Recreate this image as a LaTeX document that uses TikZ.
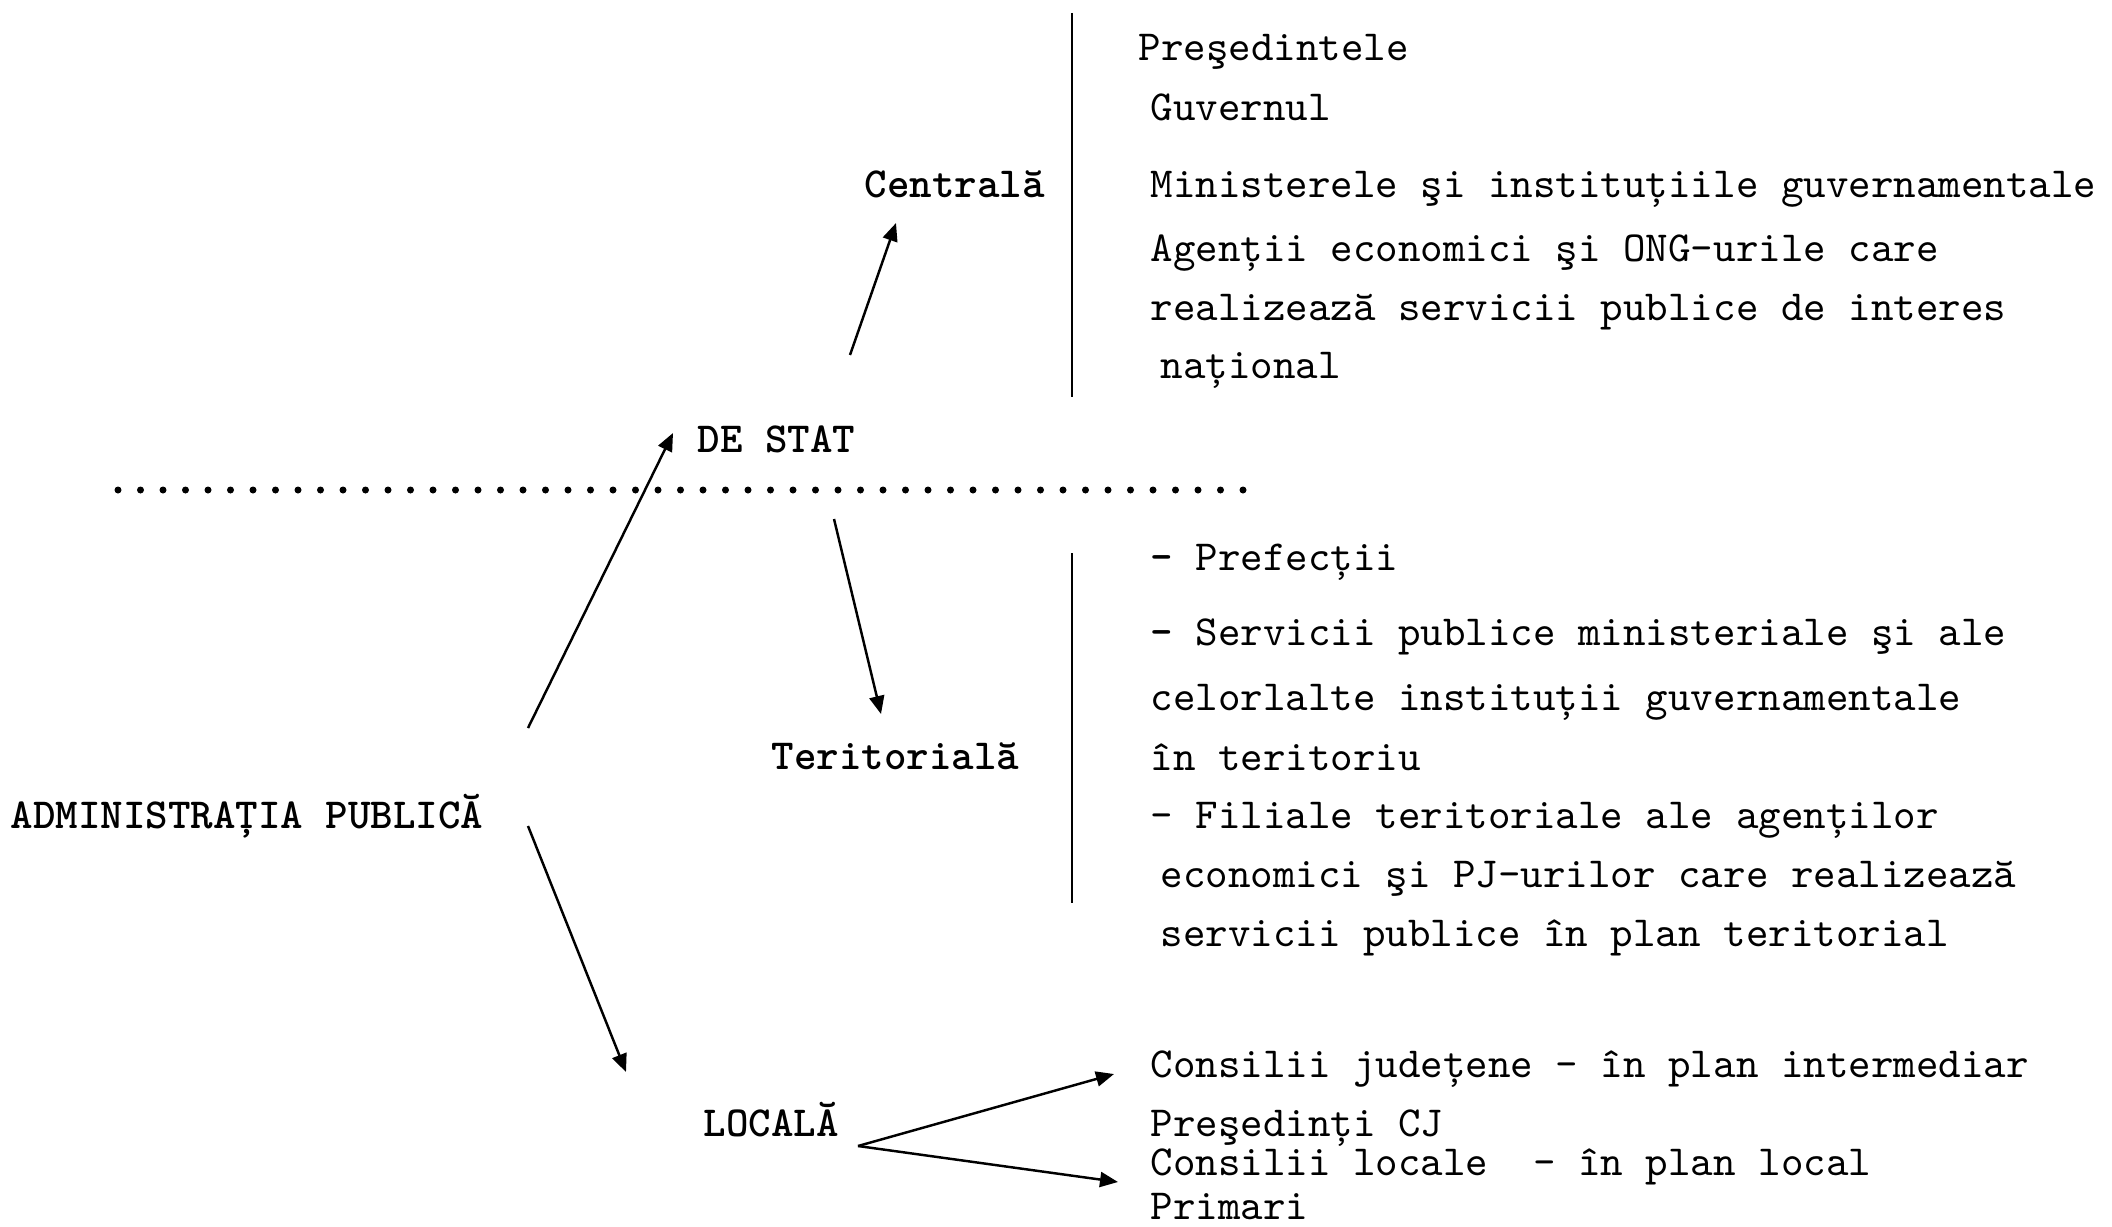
\documentclass[tikz,border=0pt]{standalone}
\usepackage{fontspec}
\setmainfont{lmmono10-regular.otf}[BoldFont=lmmonolt10-bold.otf]
\usetikzlibrary{arrows.meta, positioning}

\begin{document}
\begin{tikzpicture}[x=0.1mm, y=-0.1mm,
    every node/.style={inner sep=0pt, anchor=base west, font=\fontsize{12.2}{14}\selectfont},
    lab/.style={font=\fontsize{12.2}{14}\selectfont\bfseries},
    arr/.style={line width=0.7pt, -{Triangle[length=1.8mm, width=1.5mm]}},
    bar/.style={line width=0.7pt},
    dotline/.style={line width=0.7mm, line cap=round, dash pattern=on 0pt off 2.25mm}]
    \useasboundingbox (0,0) rectangle (2112,1226);
    % levels
    \node[lab] (admin) at (10,828) {ADMINISTRAȚIA PUBLICĂ};
    \node[lab] (destat) at (697,452) {DE STAT};
    \node[lab] (centrala) at (864,198) {Centrală};
    \node[lab] (terit) at (771,769) {Teritorială};
    \node[lab] (locala) at (703,1136) {LOCALĂ};
    % arrow ends
    \coordinate (adminup) at (528,728);
    \coordinate (admindown) at (528,826);
    \coordinate (destatin) at (673,433);
    \coordinate (destatup) at (850,355);
    \coordinate (destatdown) at (834,519);
    \coordinate (centralain) at (896,223);
    \coordinate (teritin) at (881,714);
    \coordinate (localain) at (626,1072);
    \coordinate (localaout) at (858,1146);
    \coordinate (judin) at (1114,1074);
    \coordinate (locin) at (1118,1182);
    \draw[arr] (adminup) -- (destatin);
    \draw[arr] (admindown) -- (localain);
    \draw[arr] (destatup) -- (centralain);
    \draw[arr] (destatdown) -- (teritin);
    \draw[arr] (localaout) -- (judin);
    \draw[arr] (localaout) -- (locin);
    % separators
    \draw[dotline] (118,490) -- (1250,490);
    \draw[bar] (1072,13) -- (1072,397);
    \draw[bar] (1072,553) -- (1072,903);
    % central
    \node (pres) at (1138,61) {Preşedintele};
    \node (guv) at (1150,120) {Guvernul};
    \node (min) at (1150,197) {Ministerele şi instituțiile guvernamentale};
    \node (ag1) at (1150,261) {Agenții economici şi ONG-urile care};
    \node (ag2) at (1150,320) {realizează servicii publice de interes};
    \node (ag3) at (1160,378) {național};
    % territorial
    \node (pref) at (1150,570) {\textbf{-} Prefecții};
    \node (sv1) at (1150,645) {\textbf{-} Servicii publice ministeriale şi ale};
    \node (sv2) at (1150,710) {celorlalte instituții guvernamentale};
    \node (sv3) at (1150,770) {în teritoriu};
    \node (fil1) at (1150,828) {- Filiale teritoriale ale agenților};
    \node (fil2) at (1160,887) {economici şi PJ-urilor care realizează};
    \node (fil3) at (1160,946) {servicii publice în plan teritorial};
    % local
    \node (cj) at (1150,1077) {Consilii județene - în plan intermediar};
    \node (pcj) at (1150,1136) {Preşedinți CJ};
    \node (cl) at (1150,1175) {Consilii locale\ \ - în plan local};
    \node (prim) at (1150,1219) {Primari};
\end{tikzpicture}
\end{document}
